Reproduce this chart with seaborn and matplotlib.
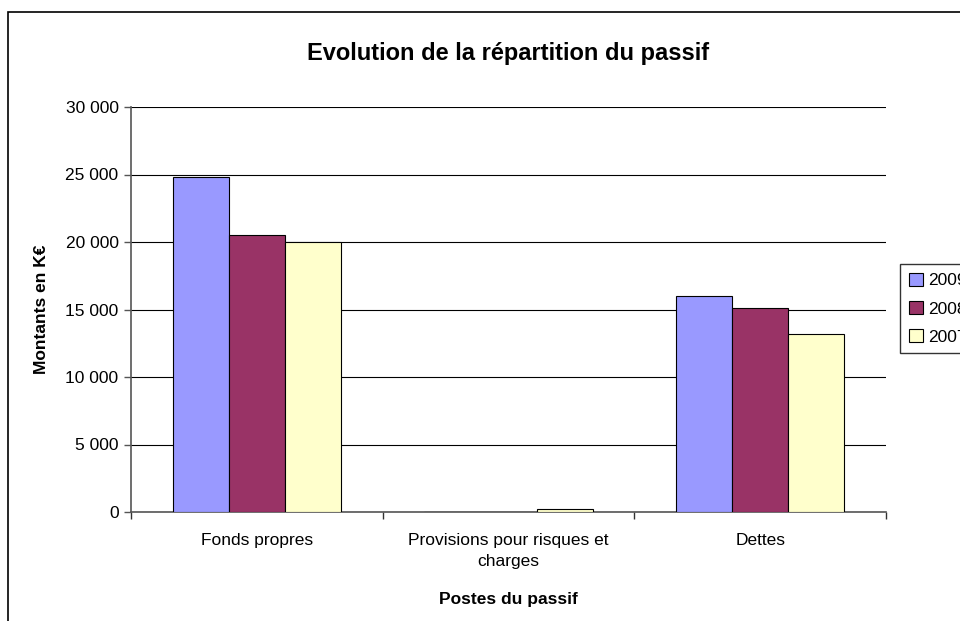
import seaborn as sns
import matplotlib.pyplot as plt
import matplotlib.ticker as mticker
from matplotlib.patches import Rectangle
import pandas as pd

sns.set_style("white")
plt.rcParams["font.family"] = ["Liberation Sans", "DejaVu Sans"]
plt.rcParams["text.color"] = "black"
plt.rcParams["axes.labelcolor"] = "black"
plt.rcParams["xtick.color"] = "black"
plt.rcParams["ytick.color"] = "black"

# Data (K€)
categories = ["Fonds propres", "Provisions pour risques et\ncharges", "Dettes"]
years = ["2009", "2008", "2007"]
values_2009 = [24850, 0, 16000]
values_2008 = [20500, 0, 15100]
values_2007 = [20000, 200, 13150]
colors = ["#9999FF", "#993366", "#FFFFCC"]

df = pd.DataFrame({
    "Poste": categories * 3,
    "Année": [y for y in years for _ in categories],
    "Montant": values_2009 + values_2008 + values_2007,
})

fig = plt.figure(figsize=(9.6, 6.21), dpi=100)
ax = fig.add_axes([131 / 960, 1 - 512 / 621, 755 / 960, 405 / 621])

sns.barplot(data=df, x="Poste", y="Montant", hue="Année", hue_order=years,
            palette=colors, width=0.67, edgecolor="black", linewidth=0.8,
            saturation=1, ax=ax, legend=False, zorder=3)

ax.set_ylim(0, 30000)
ax.set_xlim(-0.5, 2.5)
ax.yaxis.set_major_locator(mticker.MultipleLocator(5000))
ax.yaxis.set_major_formatter(mticker.FuncFormatter(lambda v, p: f"{int(v):,}".replace(",", " ")))
ax.grid(axis="y", color="black", linewidth=0.8, zorder=0)
ax.set_axisbelow(True)

for s in ["top", "right"]:
    ax.spines[s].set_visible(False)
for s in ["left", "bottom"]:
    ax.spines[s].set_color("#555555")
    ax.spines[s].set_linewidth(1.2)

ax.tick_params(axis="y", length=5, width=1, color="#555555", labelsize=12.5, left=True, pad=4)
ax.tick_params(axis="x", length=0, labelsize=12.5, pad=15)
ax.set_xticks([-0.5, 0.5, 1.5, 2.5], minor=True)
ax.tick_params(axis="x", which="minor", length=5, width=1, color="#333333", bottom=True)
for lbl in ax.get_xticklabels():
    lbl.set_linespacing(1.55)

ax.set_title("Evolution de la répartition du passif", fontsize=17, fontweight="bold", pad=34)
ax.set_xlabel("Postes du passif", fontsize=12.5, fontweight="bold", labelpad=16)
ax.set_ylabel("Montants en K€", fontsize=12.5, fontweight="bold", labelpad=12)

# Legend on the right, partly cut by the image edge (as in the original)
handles = [Rectangle((0, 0), 1, 1, facecolor=c, edgecolor="black", linewidth=0.8) for c in colors]
fig.legend(handles, years, loc="upper left", bbox_to_anchor=(900 / 960, 1 - 264 / 621),
           frameon=True, fancybox=False, edgecolor="black", fontsize=12.5,
           handlelength=0.8, handleheight=0.8, handletextpad=0.3,
           labelspacing=0.72, borderpad=0.5, borderaxespad=0)

# Outer chart border
fig.patches.append(Rectangle((8 / 960, -0.05), 1.0, 1 - 12 / 621 + 0.05,
                             transform=fig.transFigure, fill=False,
                             edgecolor="black", linewidth=1.2))

fig.savefig("out.png", dpi=100)
plt.close(fig)
